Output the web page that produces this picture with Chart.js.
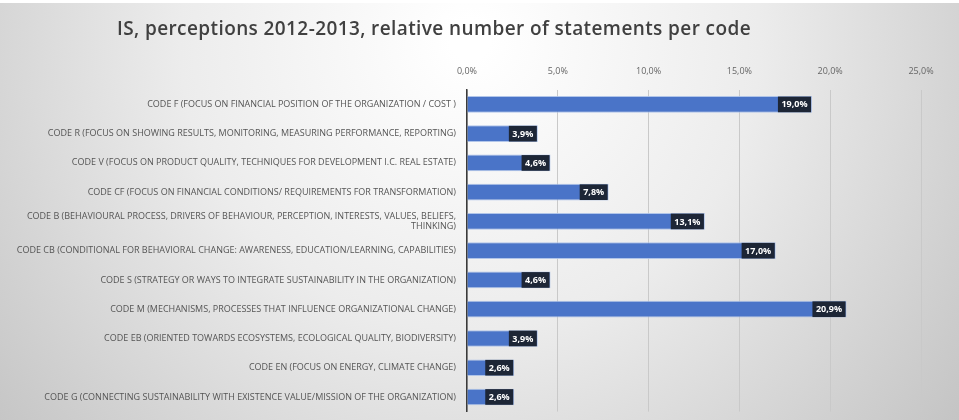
<!DOCTYPE html>
<html>
<head>
<meta charset="utf-8">
<script src="https://cdn.jsdelivr.net/npm/chart.js@4/dist/chart.umd.min.js"></script>
<style>
  html, body { margin: 0; padding: 0; background: #fff; }
  #wrap { width: 959px; height: 420px; }
</style>
</head>
<body>
<div id="wrap"><canvas id="resultChart" width="959" height="420"></canvas></div>
<script>
// categories (top to bottom)
const codes = [
    "CODE F (FOCUS ON FINANCIAL POSITION OF THE ORGANIZATION / COST )",
    "CODE R (FOCUS ON SHOWING RESULTS, MONITORING, MEASURING PERFORMANCE, REPORTING)",
    "CODE V (FOCUS ON PRODUCT QUALITY, TECHNIQUES FOR DEVELOPMENT I.C. REAL ESTATE)",
    "CODE CF (FOCUS ON FINANCIAL CONDITIONS/ REQUIREMENTS FOR TRANSFORMATION)",
    ["CODE B (BEHAVIOURAL PROCESS, DRIVERS OF BEHAVIOUR, PERCEPTION, INTERESTS, VALUES, BELIEFS,", "THINKING)"],
    "CODE CB (CONDITIONAL FOR BEHAVIORAL CHANGE: AWARENESS, EDUCATION/LEARNING, CAPABILITIES)",
    "CODE S (STRATEGY OR WAYS TO INTEGRATE SUSTAINABILITY IN THE ORGANIZATION)",
    "CODE M (MECHANISMS, PROCESSES THAT INFLUENCE ORGANIZATIONAL CHANGE)",
    "CODE EB (ORIENTED TOWARDS ECOSYSTEMS, ECOLOGICAL QUALITY, BIODIVERSITY)",
    "CODE EN (FOCUS ON ENERGY, CLIMATE CHANGE)",
    "CODE G (CONNECTING SUSTAINABILITY WITH EXISTENCE VALUE/MISSION OF THE ORGANIZATION)"
];
// relative number of statements, in %
const shares = [19.0, 3.9, 4.6, 7.8, 13.1, 17.0, 4.6, 20.9, 3.9, 2.6, 2.6];
// x axis ticks
const tickValues = [0, 5, 10, 15, 20, 25];
const titleText = 'IS, perceptions 2012-2013, relative number of statements per code';

function pct(v) {
    return v.toFixed(1).replace('.', ',') + '%';
}

// gray-white gradient behind everything, title on top of it
const bgPlugin = {
    id: 'bg',
    beforeDraw(chart) {
        const ctx = chart.ctx;
        const w = chart.width, h = chart.height;
        ctx.save();
        const g = ctx.createRadialGradient(470, 40, 20, 470, 40, 620);
        g.addColorStop(0, '#ffffff');
        g.addColorStop(0.45, '#ececec');
        g.addColorStop(1, '#c4c4c4');
        ctx.fillStyle = g;
        ctx.fillRect(0, 0, w, h);
        ctx.fillStyle = '#ffffff';
        ctx.fillRect(0, 0, w, 3);

        // title (sits a bit left of the middle in the original)
        ctx.fillStyle = '#404040';
        ctx.font = '600 19px "Open Sans", sans-serif';
        ctx.letterSpacing = '0.4px';
        ctx.textAlign = 'center';
        ctx.textBaseline = 'middle';
        ctx.fillText(titleText, 434, 30);
        ctx.restore();
    }
};

// dark boxes with the value at the end of each bar
const valueBoxes = {
    id: 'valueBoxes',
    afterDatasetsDraw(chart) {
        const ctx = chart.ctx;
        const meta = chart.getDatasetMeta(0);
        ctx.save();
        ctx.font = 'bold 9px "Open Sans", sans-serif';
        ctx.textBaseline = 'middle';
        ctx.textAlign = 'center';
        meta.data.forEach(function(bar, i) {
            const txt = pct(shares[i]);
            const tw = ctx.measureText(txt).width + 7;
            const bh = bar.height - 1;
            const x1 = bar.x - 1;
            ctx.fillStyle = '#1d2636';
            ctx.fillRect(x1 - tw, bar.y - bh / 2, tw, bh);
            ctx.fillStyle = '#ffffff';
            ctx.fillText(txt, x1 - tw / 2, bar.y + 0.5);
        });
        ctx.restore();
    }
};

const ctx = document.getElementById('resultChart');
const chart = new Chart(ctx, {
    type: 'bar',
    data: {
        labels: codes,
        datasets: [{
            data: shares,
            backgroundColor: '#4a74c8',
            borderColor: 'rgba(170,192,232,0.9)',
            borderWidth: 1,
            borderSkipped: 'start',
            barPercentage: 0.57,
            categoryPercentage: 1.0
        }]
    },
    options: {
        indexAxis: 'y',
        responsive: false,
        animation: false,
        devicePixelRatio: 1,
        layout: { padding: { left: 0, right: 38, top: 53, bottom: -4 } },
        plugins: {
            legend: { display: false },
            tooltip: { enabled: false },
            title: { display: false }
        },
        scales: {
            x: {
                position: 'top',
                min: 0,
                max: 25,
                afterBuildTicks(scale) {
                    scale.ticks = tickValues.map(v => ({ value: v }));
                },
                ticks: {
                    color: '#666666',
                    font: { family: '"Open Sans", sans-serif', size: 9 },
                    padding: 13,
                    callback: v => pct(v)
                },
                grid: { color: '#c9c9c9', drawTicks: false },
                border: { display: false }
            },
            y: {
                afterFit(scale) { scale.width = 467; },
                ticks: {
                    color: '#555555',
                    font: { family: '"Liberation Sans Narrow", "Open Sans", sans-serif', size: 9 },
                    padding: 3
                },
                grid: { display: false },
                border: { display: true, color: '#3a3a3a', width: 1.5 }
            }
        }
    },
    plugins: [bgPlugin, valueBoxes]
});
</script>
</body>
</html>
